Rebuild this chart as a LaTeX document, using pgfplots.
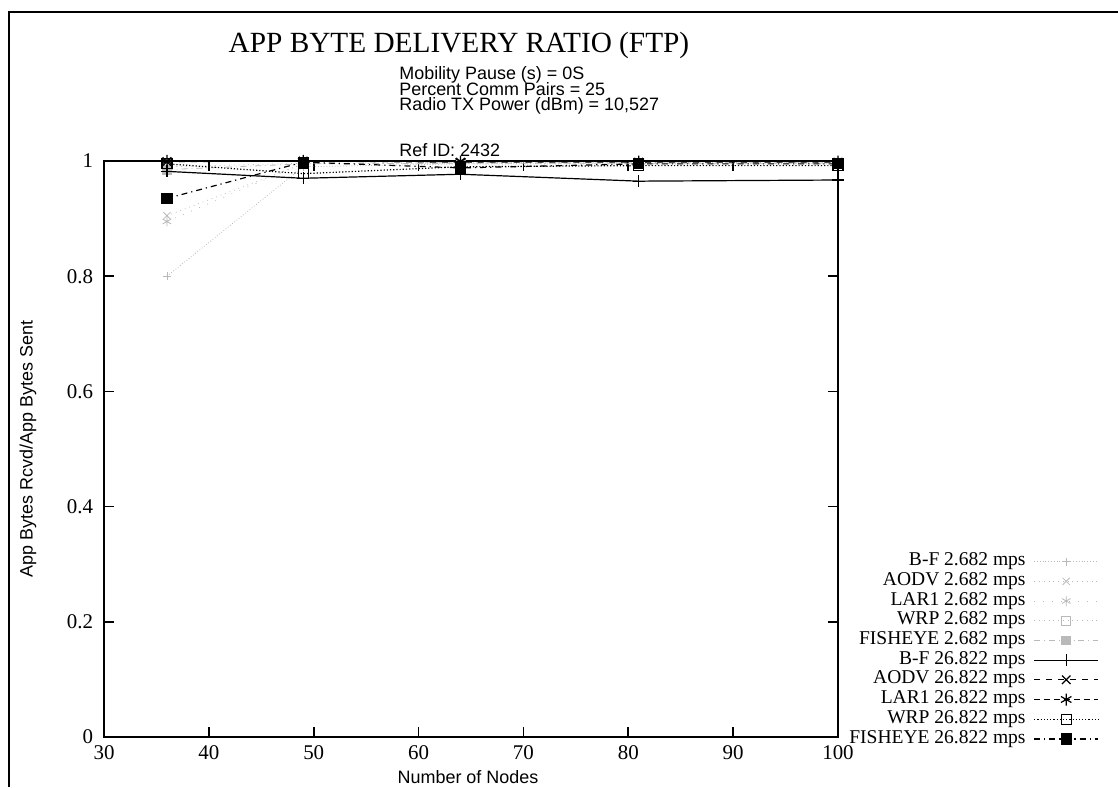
\documentclass[border=0pt]{standalone}
\usepackage{pgfplots}
\pgfplotsset{compat=1.18}
\usepackage{fontspec}
\setmainfont{Liberation Serif}
\newfontfamily\arial{Liberation Sans}
\pgfplotstableread{
x    bfa    aodva  lara   wrpa   fisha  bfb    aodvb  larb   wrpb   fishb
36   0.800  0.905  0.895  0.990  0.985  0.982  0.999  1.000  0.995  0.935
49   0.990  0.995  0.996  0.996  0.995  0.970  1.000  1.000  0.978  0.998
64   0.995  0.997  0.998  0.996  0.996  0.977  0.998  0.999  0.990  0.988
81   0.995  0.997  0.998  0.996  0.996  0.965  0.998  0.999  0.992  0.995
100  0.995  0.997  0.998  0.996  0.996  0.967  0.998  0.999  0.992  0.995
}\data
\begin{document}
\begin{tikzpicture}[x=1bp,y=1bp]
\useasboundingbox (0,0) rectangle (559,393.5);
\draw[line width=0.8bp] (4.5,0) -- (4.5,387.5) -- (559,387.5);
\node[font=\fontsize{14.7}{16}\selectfont] at (229.5,371) {APP BYTE DELIVERY RATIO (FTP)};
\node[font=\arial\fontsize{9}{9}\selectfont, anchor=base west, inner sep=0] at (199.5,354) {Mobility Pause (s) = 0S};
\node[font=\arial\fontsize{9}{9}\selectfont, anchor=base west, inner sep=0] at (199.5,346) {Percent Comm Pairs = 25};
\node[font=\arial\fontsize{9}{9}\selectfont, anchor=base west, inner sep=0] at (199.5,338.2) {Radio TX Power (dBm) = 10,527};
\node[font=\arial\fontsize{9}{9}\selectfont, anchor=base west, inner sep=0] at (199.5,315.5) {Ref ID: 2432};
\node[font=\arial\fontsize{9}{9}\selectfont, rotate=90] at (14,169) {App Bytes Rcvd/App Bytes Sent};
\node[font=\arial\fontsize{9}{9}\selectfont, anchor=base] at (234,1.8) {Number of Nodes};
\begin{axis}[
  at={(52bp,25bp)}, anchor=south west,
  scale only axis, width=367bp, height=288bp,
  xmin=30, xmax=100, ymin=0, ymax=1,
  xtick={30,40,...,100}, ytick={0,0.2,...,1},
  yticklabels={0,0.2,0.4,0.6,0.8,1},
  tick align=inside, major tick length=5bp,
  axis line style={line width=1.1bp},
  tick style={line width=0.8bp, black},
  tick label style={font=\fontsize{10.5}{12}\selectfont},
  /pgf/number format/assume math mode=true,
  yticklabel style={xshift=-2bp},
  xticklabel style={yshift=-1bp},
  clip=false,
  legend cell align=right,
  legend plot pos=right,
  legend style={draw=none, fill=none, at={(1.364,-0.028)}, anchor=south east,
    font=\fontsize{9.8}{10}\selectfont,
    nodes={inner sep=0pt, text height=7bp, text depth=2.85bp},
    column sep=4bp},
  legend image code/.code={\draw[mark repeat=2,mark phase=2] plot coordinates {(0bp,0bp) (16bp,0bp) (32bp,0bp)};},
]
\addplot[gray!55, thin, densely dotted, mark=+, mark size=2bp, mark options={solid}] table[x=x,y=bfa] {\data};
\addlegendentry{B-F 2.682 mps}
\addplot[gray!55, thin, dotted, mark=x, mark size=2.5bp, mark options={solid}] table[x=x,y=aodva] {\data};
\addlegendentry{AODV 2.682 mps}
\addplot[gray!55, thin, loosely dotted, mark=asterisk, mark size=2.5bp, mark options={solid}] table[x=x,y=lara] {\data};
\addlegendentry{LAR1 2.682 mps}
\addplot[gray!55, thin, dotted, mark=square, mark size=2.2bp, mark options={solid}] table[x=x,y=wrpa] {\data};
\addlegendentry{WRP 2.682 mps}
\addplot[gray!55, thin, dash dot, mark=square*, mark size=2.2bp, mark options={solid}] table[x=x,y=fisha] {\data};
\addlegendentry{FISHEYE 2.682 mps}
\addplot[black, line width=0.6bp, solid, mark=+, mark size=3bp] table[x=x,y=bfb] {\data};
\addlegendentry{B-F 26.822 mps}
\addplot[black, line width=0.6bp, dashed, mark=x, mark size=3bp, mark options={solid}] table[x=x,y=aodvb] {\data};
\addlegendentry{AODV 26.822 mps}
\addplot[black, line width=0.6bp, densely dashed, mark=asterisk, mark size=3bp, mark options={solid}] table[x=x,y=larb] {\data};
\addlegendentry{LAR1 26.822 mps}
\addplot[black, line width=0.6bp, densely dotted, mark=square, mark size=2.5bp, mark options={solid}] table[x=x,y=wrpb] {\data};
\addlegendentry{WRP 26.822 mps}
\addplot[black, line width=0.6bp, dash dot, mark=square*, mark size=2.5bp, mark options={solid}] table[x=x,y=fishb] {\data};
\addlegendentry{FISHEYE 26.822 mps}
\end{axis}
\end{tikzpicture}
\end{document}
